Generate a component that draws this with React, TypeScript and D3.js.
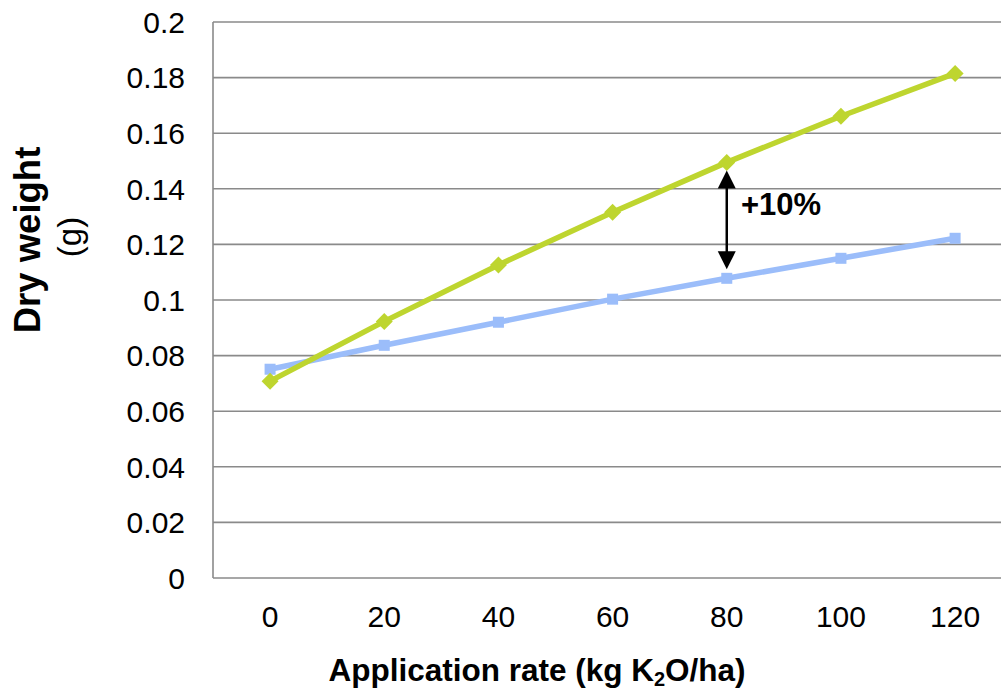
import React from "react";
import * as d3 from "d3";

const categories = ["0", "20", "40", "60", "80", "100", "120"];
const seriesGreen = [0.0708, 0.0923, 0.1126, 0.1316, 0.1495, 0.1661, 0.1815];
const seriesBlue = [0.0751, 0.0837, 0.0920, 0.1003, 0.1078, 0.1150, 0.1222];
const yTicks = [0, 0.02, 0.04, 0.06, 0.08, 0.1, 0.12, 0.14, 0.16, 0.18, 0.2];
const annotationCategory = "80";
const annotationText = "+10%";

const W = 1001;
const H = 691;
const left = 213;
const top = 22;
const bottom = 578;
const band = 114.17;

export default function App() {
  const x = d3
    .scaleBand<string>()
    .domain(categories)
    .range([left, left + band * categories.length])
    .paddingInner(0)
    .paddingOuter(0);
  const cx = (c: string) => (x(c) as number) + x.bandwidth() / 2;
  const y = d3.scaleLinear().domain([0, 0.2]).range([bottom, top]);

  const line = d3
    .line<number>()
    .x((_, i) => cx(categories[i]))
    .y((d) => y(d));

  const green = "#BED52F";
  const blue = "#9BBDFA";
  const font = "Liberation Sans, Arial, sans-serif";

  const ai = categories.indexOf(annotationCategory);
  const ax = cx(annotationCategory);
  const ay1 = y(seriesGreen[ai]) + 8;
  const ay2 = y(seriesBlue[ai]) - 9;

  return (
    <svg
      width={W}
      height={H}
      style={{ position: "absolute", left: 0, top: 0, background: "#fff" }}
      fontFamily={font}
    >
      <rect x={0} y={0} width={W} height={H} fill="#fff" />
      {yTicks.map((t) => (
        <line
          key={"g" + t}
          x1={left}
          x2={W + 20}
          y1={y(t)}
          y2={y(t)}
          stroke="#8a8a8a"
          strokeWidth={1.6}
        />
      ))}
      <line x1={left} x2={left} y1={top} y2={bottom} stroke="#8a8a8a" strokeWidth={1.6} />
      {yTicks.map((t) => (
        <text
          key={"t" + t}
          x={185}
          y={y(t)}
          dy="0.36em"
          textAnchor="end"
          fontSize={30}
          fill="#000"
        >
          {d3.format("~g")(t)}
        </text>
      ))}
      {categories.map((c) => (
        <text key={"c" + c} x={cx(c)} y={627} textAnchor="middle" fontSize={30} fill="#000">
          {c}
        </text>
      ))}
      <text x={537} y={681} textAnchor="middle" fontSize={31.5} fontWeight="bold" fill="#000">
        Application rate (kg K
        <tspan fontSize={20} dy={5}>2</tspan>
        <tspan dy={-5}>O/ha)</tspan>
      </text>
      <text
        transform="translate(40,240) rotate(-90)"
        textAnchor="middle"
        fontSize={36.5}
        fontWeight="bold"
        fill="#000"
      >
        Dry weight
      </text>
      <text
        transform="translate(81,237) rotate(-90)"
        textAnchor="middle"
        fontSize={33}
        fill="#000"
      >
        (g)
      </text>

      <path d={line(seriesBlue) || ""} fill="none" stroke={blue} strokeWidth={5.5} />
      {seriesBlue.map((v, i) => (
        <rect
          key={"b" + i}
          x={cx(categories[i]) - 5.5}
          y={y(v) - 5.5}
          width={11}
          height={11}
          fill={blue}
        />
      ))}
      <path d={line(seriesGreen) || ""} fill="none" stroke={green} strokeWidth={5.5} />
      {seriesGreen.map((v, i) => {
        const px = cx(categories[i]);
        const py = y(v);
        const r = 8.5;
        return (
          <path
            key={"gr" + i}
            d={`M${px},${py - r}L${px + r},${py}L${px},${py + r}L${px - r},${py}Z`}
            fill={green}
          />
        );
      })}

      <line x1={ax} x2={ax} y1={ay1 + 14} y2={ay2 - 14} stroke="#000" strokeWidth={2.5} />
      <path d={`M${ax},${ay1}L${ax + 9},${ay1 + 18}L${ax - 9},${ay1 + 18}Z`} fill="#000" />
      <path d={`M${ax},${ay2}L${ax + 9},${ay2 - 18}L${ax - 9},${ay2 - 18}Z`} fill="#000" />
      <text x={741} y={215} fontSize={31} fontWeight="bold" fill="#000">
        {annotationText}
      </text>
    </svg>
  );
}
